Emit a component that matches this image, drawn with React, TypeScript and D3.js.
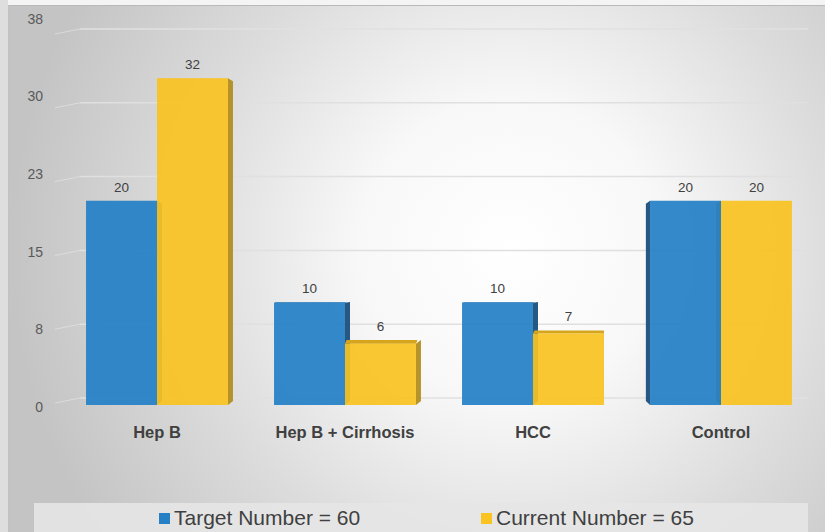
import React from "react";
import * as d3 from "d3";

// Patient groups and counts per series
const categories = ["Hep B", "Hep B + Cirrhosis", "HCC", "Control"];
const targetValues = [20, 10, 10, 20];
const currentValues = [32, 6, 7, 20];
const seriesNames = ["Target Number = 60", "Current Number = 65"];
const yTicks = [0, 7.5, 15, 22.5, 30, 37.5];

const W = 825;
const H = 532;

const BLUE = "#2580c6";
const BLUE_SIDE = "#1b4f7c";
const BLUE_TOP = "#1f6fae";
const GOLD = "#f9c322";
const GOLD_SIDE = "#b38e1f";
const GOLD_TOP = "#d6a51c";

// front plane of the bars
const y = d3.scaleLinear().domain([0, 37.5]).range([405, 22]);
// back wall where gridlines sit
const yWall = d3.scaleLinear().domain([0, 37.5]).range([398, 29]);
// axis labels sit on the side wall
const yLabel = d3.scaleLinear().domain([0, 37.5]).range([408, 20]);
const x0 = d3
  .scaleBand<string>()
  .domain(categories)
  .range([63, 815])
  .paddingInner(0.245)
  .paddingOuter(0.1225);
const x1 = d3
  .scaleBand<string>()
  .domain(["target", "current"])
  .range([0, x0.bandwidth()]);

// simple perspective: eye point for side/top faces
const VP_X = 600;
const EYE_Y = 290;
const clamp = (v: number, lo: number, hi: number) => Math.max(lo, Math.min(hi, v));
const depthX = (ex: number) => clamp((VP_X - ex) / 12, -5, 5);
const depthY = (ey: number) => clamp((EYE_Y - ey) * 0.07, -4, 3);

type Bar = { key: string; cat: string; value: number; fill: string; side: string; top: string };

function Bar3D({ b }: { b: Bar }) {
  const left = (x0(b.cat) ?? 0) + (x1(b.key) ?? 0);
  const w = x1.bandwidth();
  const right = left + w;
  const top = y(b.value);
  const base = y(0);
  const faces: React.ReactNode[] = [];
  // side face (right of vanishing point shows left face and vice versa)
  const edge = left + w / 2 < VP_X ? right : left;
  const dx = depthX(edge);
  if (Math.abs(dx) > 0.3) {
    const pts = [
      [edge, top],
      [edge + dx, top + depthY(top)],
      [edge + dx, base + depthY(base)],
      [edge, base],
    ];
    faces.push(<polygon key="s" points={pts.map((p) => p.join(",")).join(" ")} fill={b.side} opacity={0.95} />);
  }
  // top face when the bar top is below eye level
  const dt = depthY(top);
  if (dt < -0.5) {
    const dxl = depthX(left) * 0.3;
    const dxr = depthX(right) * 0.3;
    const pts = [
      [left, top],
      [left + dxl, top + dt],
      [right + dxr, top + dt],
      [right, top],
    ];
    faces.push(<polygon key="t" points={pts.map((p) => p.join(",")).join(" ")} fill={b.top} />);
  }
  return (
    <g>
      {faces}
      <rect x={left} y={top} width={w} height={base - top} fill={b.fill} opacity={0.93} />
      <text
        x={left + w / 2}
        y={top - (dt < -0.5 ? -dt : 0) - 9}
        textAnchor="middle"
        fontSize={13.5}
        fill="#404040"
        fontFamily="Liberation Sans, Arial, sans-serif"
      >
        {b.value}
      </text>
    </g>
  );
}

export default function App() {
  const groups = categories.map((cat, i) => {
    const bars: Bar[] = [
      { key: "target", cat, value: targetValues[i], fill: BLUE, side: BLUE_SIDE, top: BLUE_TOP },
      { key: "current", cat, value: currentValues[i], fill: GOLD, side: GOLD_SIDE, top: GOLD_TOP },
    ];
    // paint farther-from-eye bars first
    const center = (x0(cat) ?? 0) + x0.bandwidth() / 2;
    return center > VP_X ? bars.slice().reverse() : bars;
  });

  return (
    <svg
      width={W}
      height={H}
      viewBox={`0 0 ${W} ${H}`}
      style={{ position: "absolute", left: 0, top: 0, display: "block" }}
    >
      <defs>
        <radialGradient id="bg" gradientUnits="userSpaceOnUse" cx={510} cy={250} r={500}>
          <stop offset="0" stopColor="#ffffff" />
          <stop offset="0.3" stopColor="#f8f8f8" />
          <stop offset="0.65" stopColor="#dcdcdc" />
          <stop offset="1" stopColor="#c4c4c4" />
        </radialGradient>
      </defs>
      <rect x={0} y={0} width={W} height={H} fill="#f4f4f4" />
      <rect x={0} y={0} width={8} height={H} fill="#dedede" />
      <rect x={8} y={5} width={W - 8} height={H - 5} fill="url(#bg)" />
      <line x1={8} y1={5.5} x2={W} y2={5.5} stroke="#b9b9b9" strokeWidth={1} />
      <line x1={8.5} y1={5} x2={8.5} y2={H} stroke="#c2c2c2" strokeWidth={1} />

      {/* gridlines on back wall */}
      {yTicks.map((t) => (
        <g key={t}>
          <line x1={55} y1={yWall(t) + 5} x2={80} y2={yWall(t)} stroke="#e4e4e4" strokeWidth={1} opacity={0.7} />
          <line x1={80} y1={yWall(t)} x2={808} y2={yWall(t)} stroke="#e0e0e0" strokeWidth={1.5} />
        </g>
      ))}

      {/* y axis labels */}
      {yTicks.map((t) => (
        <text
          key={t}
          x={43}
          y={yLabel(t)}
          dominantBaseline="middle"
          textAnchor="end"
          fontSize={14}
          fill="#595959"
          fontFamily="Liberation Sans, Arial, sans-serif"
        >
          {Math.round(t)}
        </text>
      ))}

      {groups.map((bars, i) => (
        <g key={categories[i]}>
          {bars.map((b) => (
            <Bar3D key={b.key} b={b} />
          ))}
        </g>
      ))}

      {/* category labels */}
      {categories.map((c) => (
        <text
          key={c}
          x={(x0(c) ?? 0) + x0.bandwidth() / 2}
          y={438}
          textAnchor="middle"
          fontSize={16.5}
          fontWeight="bold"
          fill="#404040"
          fontFamily="Liberation Sans Narrow, Liberation Sans, Arial, sans-serif"
          style={{ fontStretch: "condensed" }}
        >
          {c}
        </text>
      ))}

      {/* legend */}
      <rect x={34} y={503} width={774} height={29} fill="#e6e6e6" opacity={0.9} />
      {seriesNames.map((s, i) => {
        const lx = i === 0 ? 159 : 481;
        return (
          <g key={s}>
            <rect x={lx} y={513} width={11} height={11} fill={i === 0 ? BLUE : GOLD} />
            <text
              x={lx + 15}
              y={525}
              fontSize={21}
              fill="#404040"
              fontFamily="Liberation Sans Narrow, Liberation Sans, Arial, sans-serif"
              style={{ fontStretch: "condensed" }}
            >
              {s}
            </text>
          </g>
        );
      })}
    </svg>
  );
}
